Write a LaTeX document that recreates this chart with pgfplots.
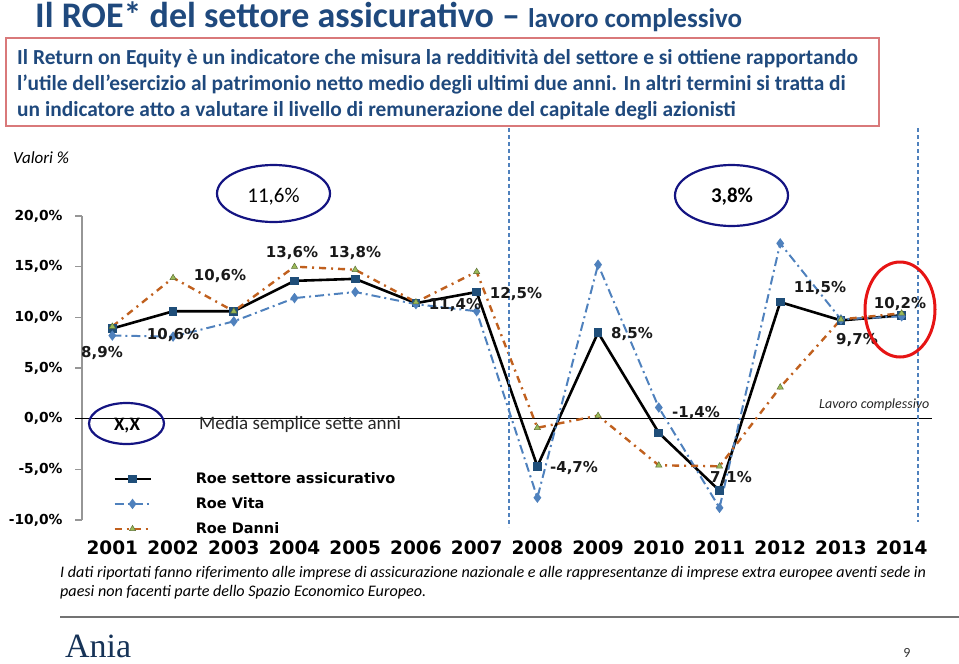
\documentclass[border=0pt]{standalone}
\usepackage{fontspec}
\setmainfont{Carlito}
\newfontfamily\dv{DejaVu Sans}
\newfontfamily\lserif{Liberation Serif}
\usepackage{pgfplots}
\pgfplotsset{compat=1.18}
\definecolor{titleblue}{RGB}{31,73,125}
\definecolor{boxred}{RGB}{217,121,122}
\definecolor{navyell}{RGB}{20,20,130}
\definecolor{redell}{RGB}{230,20,20}
\definecolor{mkblue}{RGB}{31,78,121}
\definecolor{vitablue}{RGB}{79,129,189}
\definecolor{danniorange}{RGB}{192,96,30}
\definecolor{trigreen}{RGB}{155,187,89}
\definecolor{axgray}{RGB}{150,150,150}
\newcommand{\px}[1]{\fontsize{#1}{#1}\selectfont}
\begin{document}
\begin{tikzpicture}
\useasboundingbox (0,0) rectangle (959pt,-664pt);
\begin{axis}[
  at={(82pt,-520pt)}, anchor=south west,
  scale only axis, width=850pt, height=304pt,
  xmin=2000.5, xmax=2014.5, ymin=-10, ymax=20,
  clip=false,
  axis lines*=left,
  x axis line style={draw=none},
  y axis line style={draw=axgray, line width=2pt},
  xtick={2001,2002,2003,2004,2005,2006,2007,2008,2009,2010,2011,2012,2013,2014},
  xticklabels={2001,2002,2003,2004,2005,2006,2007,2008,2009,2010,2011,2012,2013,2014},
  xtick style={draw=none},
  xticklabel style={font=\dv\bfseries\px{18.5}, text=black, yshift=-10pt},
  ytick={-10,-5,0,5,10,15,20},
  yticklabels={{-10,0\%},{-5,0\%},{0,0\%},{5,0\%},{10,0\%},{15,0\%},{20,0\%}},
  ytick style={draw=axgray, line width=1.2pt},
  tick align=outside, major tick length=7pt,
  yticklabel style={font=\dv\bfseries\px{13.8}, text=black, xshift=-9pt},
  legend style={draw=none, fill=none, at={(0.0365,0.163)}, anchor=north west,
    font=\dv\bfseries\px{14.5}, inner sep=0pt, row sep=8.5pt, column sep=2pt,
    cells={anchor=west}},
  legend cell align=left,
  legend image code/.code={\draw[mark repeat=2,mark phase=2,#1] plot coordinates {(0pt,0pt) (18pt,0pt) (36pt,0pt)};},
]
\draw[black, line width=1.5pt] (axis cs:2000.38,0) -- (axis cs:2014.5,0);
\addplot[black, line width=2.6pt, mark=square*, mark size=3pt,
  mark options={fill=mkblue, draw=mkblue, solid}]
coordinates {(2001,8.9) (2002,10.6) (2003,10.6) (2004,13.6) (2005,13.8) (2006,11.4) (2007,12.5)
 (2008,-4.7) (2009,8.5) (2010,-1.4) (2011,-7.1) (2012,11.5) (2013,9.7) (2014,10.2)};
\addlegendentry{\hspace{40pt}Roe settore assicurativo}
\addplot[vitablue, line width=2pt, dash pattern=on 9pt off 4pt on 2pt off 4pt,
  mark=diamond*, mark size=3.6pt, mark options={fill=vitablue, draw=vitablue, solid}]
coordinates {(2001,8.2) (2002,8.1) (2003,9.6) (2004,11.9) (2005,12.5) (2006,11.3) (2007,10.6)
 (2008,-7.8) (2009,15.2) (2010,1.1) (2011,-8.8) (2012,17.3) (2013,9.8) (2014,10.1)};
\addlegendentry{\hspace{40pt}Roe Vita}
\addplot[danniorange, line width=2.4pt, dash pattern=on 7pt off 5pt on 2pt off 5pt,
  mark=triangle*, mark size=3.6pt, mark options={fill=trigreen, draw=trigreen!60!black, line width=0.5pt, solid}]
coordinates {(2001,9.1) (2002,13.9) (2003,10.6) (2004,15.0) (2005,14.7) (2006,11.5) (2007,14.5)
 (2008,-0.9) (2009,0.3) (2010,-4.6) (2011,-4.7) (2012,3.1) (2013,9.8) (2014,10.4)};
\addlegendentry{\hspace{40pt}Roe Danni}
\end{axis}
\begin{scope}[x=1pt,y=-1pt]
% title
\node[anchor=base west, inner sep=0pt, text=titleblue, font=\bfseries\px{36}] at (35,27) {Il ROE* del settore assicurativo {\px{36}–} {\px{27}lavoro complessivo}};
% box
\draw[boxred, line width=2pt] (6,38) rectangle (879,126);
\node[anchor=base west, inner sep=0pt, text=titleblue, font=\bfseries\px{21.4}] at (17,64) {Il Return on Equity è un indicatore che misura la redditività del settore e si ottiene rapportando};
\node[anchor=base west, inner sep=0pt, text=titleblue, font=\bfseries\px{21.4}] at (17,90) {l’utile dell’esercizio al patrimonio netto medio degli ultimi due anni. In altri termini si tratta di};
\node[anchor=base west, inner sep=0pt, text=titleblue, font=\bfseries\px{21.4}] at (17,116) {un indicatore atto a valutare il livello di remunerazione del capitale degli azionisti};
% vertical dashed lines
\draw[vitablue, line width=1.4pt, dash pattern=on 4pt off 3pt] (509,128) -- (509,527);
\draw[vitablue, line width=1.4pt, dash pattern=on 4pt off 3pt] (918,128) -- (918,522);
% valori
\node[anchor=base west, inner sep=0pt, font=\itshape\px{17}] at (13,163) {Valori \%};
% ellipses
\draw[navyell, line width=2.2pt] (273.5,193.5) ellipse [x radius=56.5pt, y radius=28.5pt];
\node[font=\px{21}] at (273.5,197) {11,6\%};
\draw[navyell, line width=2.2pt] (731.5,195.5) ellipse [x radius=56.5pt, y radius=30.5pt];
\node[font=\bfseries\px{21}] at (732,197) {3,8\%};
\draw[navyell, line width=2.2pt] (126.5,423.5) ellipse [x radius=37.5pt, y radius=20.5pt];
\node[font=\bfseries\px{19}] at (127,426) {X,X};
\node[anchor=base west, inner sep=0pt, font=\px{19}, text=black!85] at (199,429) {Media semplice sette anni};
\node[anchor=base west, inner sep=0pt, font=\itshape\px{14}, text=black!85] at (819,408) {Lavoro complessivo};
% data labels
\begin{scope}[every node/.style={font=\dv\bfseries\px{15}, inner sep=0pt, text=black!90}]
\node at (102,353) {8,9\%};
\node at (173,335) {10,6\%};
\node at (220,276) {10,6\%};
\node at (292,253) {13,6\%};
\node at (355,253) {13,8\%};
\node at (455,305) {11,4\%};
\node at (516,294) {12,5\%};
\node at (574,468) {-4,7\%};
\node at (632,334) {8,5\%};
\node at (696,413) {-1,4\%};
\node at (731,478) {7,1\%};
\node at (820,288) {11,5\%};
\node at (857,340) {9,7\%};
\node at (900,304) {10,2\%};
\end{scope}
\draw[redell, line width=3pt] (900,309.5) ellipse [x radius=35pt, y radius=47.5pt];
% footnote
\node[anchor=base west, inner sep=0pt, font=\itshape\px{16.1}] at (60,577) {I dati riportati fanno riferimento alle imprese di assicurazione nazionale e alle rappresentanze di imprese extra europee aventi sede in};
\node[anchor=base west, inner sep=0pt, font=\itshape\px{16.1}] at (60,596) {paesi non facenti parte dello Spazio Economico Europeo.};
\draw[black!55, line width=2.5pt] (60,617) -- (959,617);
\node[anchor=base west, inner sep=0pt, font=\lserif\px{34}, text=titleblue!70!black] at (65,657) {Ania};
\node[anchor=base, inner sep=0pt, font=\px{14}, text=black!80] at (907,657) {9};
\end{scope}
\end{tikzpicture}
\end{document}
